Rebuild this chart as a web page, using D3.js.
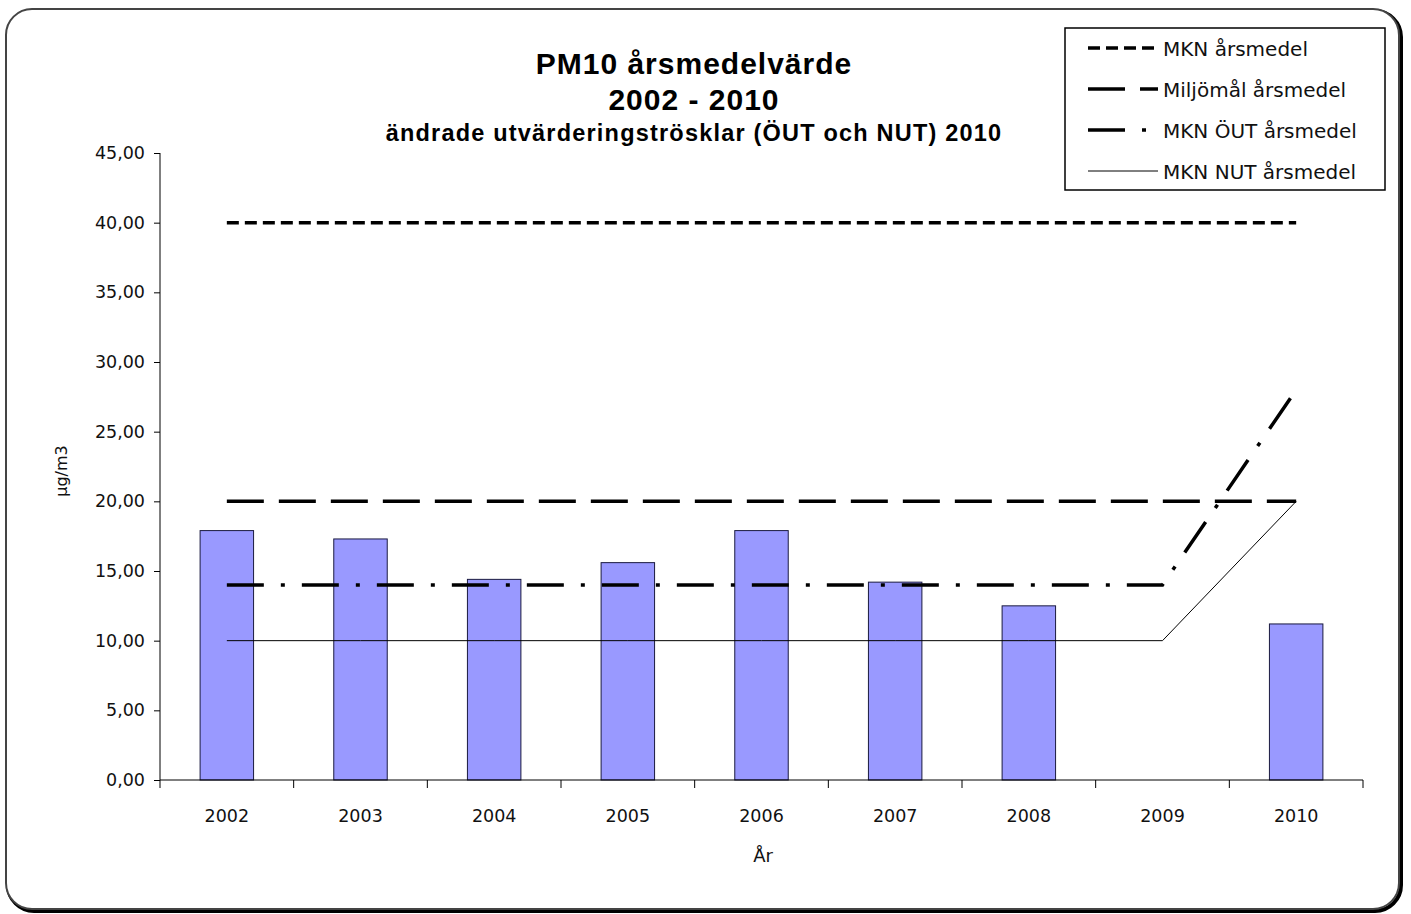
<!DOCTYPE html>
<html>
<head>
<meta charset="utf-8">
<script src="https://d3js.org/d3.v7.min.js"></script>
<style>
  html, body { margin: 0; padding: 0; background: #fff; }
  svg { display: block; font-family: "DejaVu Sans", Verdana, sans-serif; }
</style>
</head>
<body>
<svg id="chart" width="1411" height="914"></svg>
<script>
// data
var years = ["2002", "2003", "2004", "2005", "2006", "2007", "2008", "2009", "2010"];
var pm10 = [17.9, 17.3, 14.4, 15.6, 17.9, 14.2, 12.5, null, 11.2];
var mknArs = [40, 40, 40, 40, 40, 40, 40, 40, 40];
var miljomal = [20, 20, 20, 20, 20, 20, 20, 20, 20];
var mknOut = [14, 14, 14, 14, 14, 14, 14, 14, 28];
var mknNut = [10, 10, 10, 10, 10, 10, 10, 10, 20];
var yTicks = [0, 5, 10, 15, 20, 25, 30, 35, 40, 45];

var series = [
  {name: "MKN årsmedel", values: mknArs, width: 3.5, dash: "12,6"},
  {name: "Miljömål årsmedel", values: miljomal, width: 3.5, dash: "37,15"},
  {name: "MKN ÖUT årsmedel", values: mknOut, width: 3.5, dash: "37,17,4,17"},
  {name: "MKN NUT årsmedel", values: mknNut, width: 1, dash: null}
];

var svg = d3.select("#chart");
var tickFont = "'DejaVu Sans', Verdana, sans-serif";

// frame with the shadow on the right and bottom
svg.append("rect").attr("x", 8).attr("y", 11).attr("width", 1393).attr("height", 900)
  .attr("rx", 26).attr("fill", "none").attr("stroke", "#000").attr("stroke-width", 4);
svg.append("rect").attr("x", 6).attr("y", 9).attr("width", 1393).attr("height", 900)
  .attr("rx", 26).attr("fill", "#fff").attr("stroke", "#444").attr("stroke-width", 2);

var x = d3.scaleBand().domain(years).range([160, 1363]).padding(0);
var y = d3.scaleLinear().domain([0, 45]).range([780, 153]);
var fmt = function(d) { return d3.format(".2f")(d).replace(".", ","); };

// bars
svg.append("g").selectAll("rect")
  .data(years.map(function(d, i) { return {year: d, v: pm10[i]}; }).filter(function(d) { return d.v != null; }))
  .enter().append("rect")
  .attr("x", function(d) { return x(d.year) + x.bandwidth() * 0.3; })
  .attr("width", x.bandwidth() * 0.4)
  .attr("y", function(d) { return y(d.v); })
  .attr("height", function(d) { return y(0) - y(d.v); })
  .attr("fill", "#9999ff")
  .attr("stroke", "#1a1a40")
  .attr("stroke-width", 1);

// y axis
var yAxis = svg.append("g").attr("transform", "translate(160,0)")
  .call(d3.axisLeft(y).tickValues(yTicks).tickFormat(fmt).tickSize(6).tickPadding(9));
yAxis.select(".domain").attr("stroke", "#000").attr("d", "M0," + y(45) + "V" + y(0));
yAxis.selectAll("text").attr("font-size", 17.5).attr("fill", "#111")
  .attr("font-family", tickFont);

// x axis: labels at centres, ticks at band edges
var xAxis = svg.append("g").attr("transform", "translate(0,780)")
  .call(d3.axisBottom(x).tickSize(0));
xAxis.select(".domain").attr("stroke", "#000").attr("d", "M160,0H1363");
xAxis.selectAll("text").attr("font-size", 17.5).attr("fill", "#111")
  .attr("font-family", tickFont).attr("y", 42).attr("dy", 0);
xAxis.selectAll("line.edge")
  .data(years.map(function(d) { return x(d); }).concat([x.range()[1]]))
  .enter().append("line").attr("class", "edge")
  .attr("x1", function(d) { return d; }).attr("x2", function(d) { return d; })
  .attr("y1", 0).attr("y2", 8).attr("stroke", "#000");

// reference lines
var line = d3.line()
  .x(function(d, i) { return x(years[i]) + x.bandwidth() / 2; })
  .y(function(d) { return y(d); });
series.forEach(function(s) {
  svg.append("path").attr("d", line(s.values))
    .attr("fill", "none").attr("stroke", "#000")
    .attr("stroke-width", s.width)
    .attr("stroke-dasharray", s.dash);
});

// titles
var title = svg.append("g").attr("text-anchor", "middle").attr("fill", "#000")
  .attr("font-weight", "bold").attr("font-family", "'Liberation Sans', Arial, sans-serif");
title.append("text").attr("x", 694).attr("y", 74).attr("font-size", 30)
  .attr("letter-spacing", 1).text("PM10 årsmedelvärde");
title.append("text").attr("x", 694).attr("y", 110).attr("font-size", 30)
  .attr("letter-spacing", 1).text("2002 - 2010");
title.append("text").attr("x", 694).attr("y", 141).attr("font-size", 23.5)
  .attr("letter-spacing", 1.2).text("ändrade utvärderingströsklar (ÖUT och NUT) 2010");

svg.append("text").attr("transform", "translate(67,471) rotate(-90)")
  .attr("text-anchor", "middle").attr("font-size", 16).attr("fill", "#111").text("µg/m3");
svg.append("text").attr("x", 763).attr("y", 862)
  .attr("text-anchor", "middle").attr("font-size", 18).attr("fill", "#111").text("År");

// legend
var legend = svg.append("g");
legend.append("rect").attr("x", 1065).attr("y", 28).attr("width", 320).attr("height", 162)
  .attr("fill", "#fff").attr("stroke", "#000").attr("stroke-width", 1.5);
series.forEach(function(s, i) {
  var ly = 48 + i * 41;
  legend.append("line").attr("x1", 1088).attr("x2", 1158).attr("y1", ly).attr("y2", ly)
    .attr("stroke", "#000").attr("stroke-width", s.width)
    .attr("stroke-dasharray", s.dash);
  legend.append("text").attr("x", 1163).attr("y", ly + 8).attr("font-size", 20)
    .attr("fill", "#111").text(s.name);
});
</script>
</body>
</html>
